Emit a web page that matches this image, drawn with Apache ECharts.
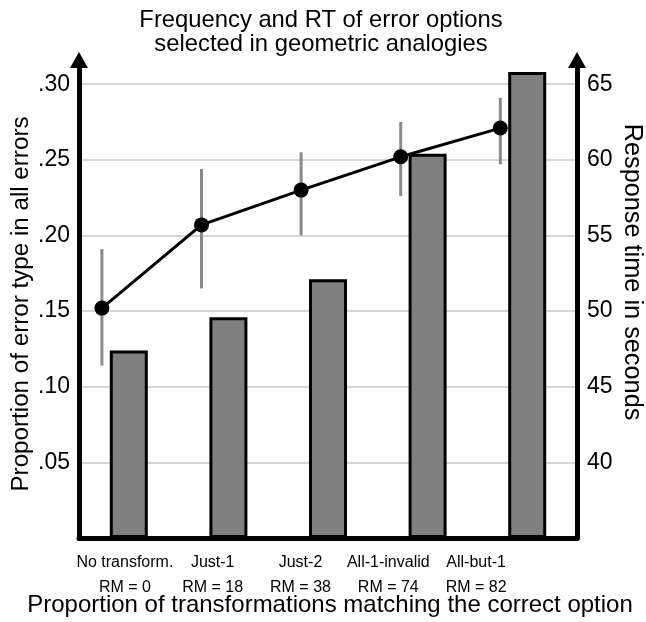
<!DOCTYPE html>
<html>
<head>
<meta charset="utf-8">
<script src="https://cdn.jsdelivr.net/npm/echarts@6/dist/echarts.min.js"></script>
<style>
  html, body { margin: 0; padding: 0; background: #fff; }
  #chart { width: 646px; height: 622px; }
</style>
</head>
<body>
<div id="chart"></div>
<script>
// error option types and their RM values
var categories = ['No transform.', 'Just-1', 'Just-2', 'All-1-invalid', 'All-but-1'];
var rmValues = [0, 18, 38, 74, 82];
// proportion of error type in all errors (bars, left axis)
var proportions = [0.124, 0.146, 0.171, 0.254, 0.308];
// response time in seconds (line, right axis) with error bar ends
var rtMeans = [50.2, 55.7, 58.0, 60.2, 62.1];
var rtLow = [46.4, 51.5, 55.0, 57.6, 59.7];
var rtHigh = [54.1, 59.4, 60.5, 62.5, 64.1];
// tick labels
var leftTicks = [0.05, 0.10, 0.15, 0.20, 0.25, 0.30];
var rightTicks = [40, 45, 50, 55, 60, 65];

var FONT = 'Liberation Sans, Arial, Helvetica, sans-serif';
var pointShift = 0.27; // RT points sit a bit left of their bar

var chart = echarts.init(document.getElementById('chart'));

// axis titles as free text so they sit exactly where the figure has them
function axisTitle(text, x, y, rot, size) {
  return {
    type: 'text',
    x: x,
    y: y,
    rotation: rot,
    silent: true,
    style: {
      text: text,
      fontFamily: FONT,
      fontSize: size,
      fill: '#000',
      align: 'center',
      verticalAlign: 'middle'
    }
  };
}

var option = {
  animation: false,
  title: {
    text: 'Frequency and RT of error options\nselected in geometric analogies',
    left: 316,
    top: 3,
    textAlign: 'center',
    textStyle: { fontFamily: FONT, fontSize: 23.8, fontWeight: 'normal', color: '#000', lineHeight: 24 }
  },
  graphic: [
    axisTitle('Proportion of error type in all errors', 21, 304, Math.PI / 2, 24.2),
    axisTitle('Response time in seconds', 632, 272, -Math.PI / 2, 25.3),
    axisTitle('Proportion of transformations matching the correct option', 330, 605, 0, 24)
  ],
  grid: [
    { left: 79, right: 69, top: 60, bottom: 84, outerBoundsMode: 'none' },
    // only used to place the category labels
    { left: 81, right: 126, top: 60, bottom: 84, outerBoundsMode: 'none' }
  ],
  xAxis: [
    {
      type: 'value',
      gridIndex: 0,
      min: 0,
      max: 5,
      axisLine: { show: true, lineStyle: { color: '#000', width: 5 } },
      axisTick: { show: false },
      axisLabel: { show: false },
      splitLine: { show: false }
    },
    {
      type: 'category',
      gridIndex: 1,
      data: categories.map(function (c, i) { return c + '\nRM = ' + rmValues[i]; }),
      axisLine: { show: false },
      axisTick: { show: false },
      axisLabel: { margin: 12, fontFamily: FONT, fontSize: 16, lineHeight: 25, color: '#000', interval: 0 }
    }
  ],
  yAxis: [
    {
      type: 'value',
      gridIndex: 0,
      position: 'left',
      min: 0,
      max: 0.316,
      interval: 0.05,
      axisLine: {
        show: true,
        symbol: ['none', 'triangle'],
        symbolSize: [18, 16],
        lineStyle: { color: '#000', width: 5 }
      },
      axisTick: { show: false },
      axisLabel: {
        margin: 9,
        fontFamily: FONT,
        fontSize: 23,
        color: '#000',
        formatter: function (v) {
          var r = Math.round(v * 100) / 100;
          return leftTicks.indexOf(r) >= 0 ? r.toFixed(2).replace(/^0/, '') : '';
        }
      },
      splitLine: { show: true, showMinLine: false, showMaxLine: false, lineStyle: { color: '#c8c8c8', width: 1.5 } }
    },
    {
      type: 'value',
      gridIndex: 0,
      position: 'right',
      min: 35,
      max: 66.6,
      interval: 5,
      axisLine: {
        show: true,
        symbol: ['none', 'triangle'],
        symbolSize: [18, 16],
        lineStyle: { color: '#000', width: 5 }
      },
      axisTick: { show: false },
      axisLabel: {
        margin: 10,
        fontFamily: FONT,
        fontSize: 23,
        color: '#000',
        formatter: function (v) {
          return rightTicks.indexOf(Math.round(v * 100) / 100) >= 0 ? String(v) : '';
        }
      },
      splitLine: { show: false }
    },
    { type: 'value', gridIndex: 1, show: false }
  ],
  series: [
    {
      type: 'bar',
      xAxisIndex: 0,
      yAxisIndex: 0,
      barWidth: 38,
      data: proportions.map(function (v, i) { return [i + 0.5, v]; }),
      itemStyle: { color: '#7f7f7f', borderColor: '#000', borderWidth: 3 },
      z: 2
    },
    {
      // error bars of RT
      type: 'custom',
      xAxisIndex: 0,
      yAxisIndex: 1,
      data: rtLow.map(function (lo, i) { return [i + 0.5 - pointShift, lo, rtHigh[i]]; }),
      encode: { x: 0, y: [1, 2] },
      renderItem: function (params, api) {
        var a = api.coord([api.value(0), api.value(1)]);
        var b = api.coord([api.value(0), api.value(2)]);
        return {
          type: 'line',
          shape: { x1: a[0], y1: a[1], x2: b[0], y2: b[1] },
          style: { stroke: '#8a8a8a', lineWidth: 3 }
        };
      },
      z: 3
    },
    {
      type: 'line',
      xAxisIndex: 0,
      yAxisIndex: 1,
      data: rtMeans.map(function (v, i) { return [i + 0.5 - pointShift, v]; }),
      symbol: 'circle',
      symbolSize: 15,
      itemStyle: { color: '#000' },
      lineStyle: { color: '#000', width: 3 },
      z: 4
    }
  ]
};

chart.setOption(option);
</script>
</body>
</html>
